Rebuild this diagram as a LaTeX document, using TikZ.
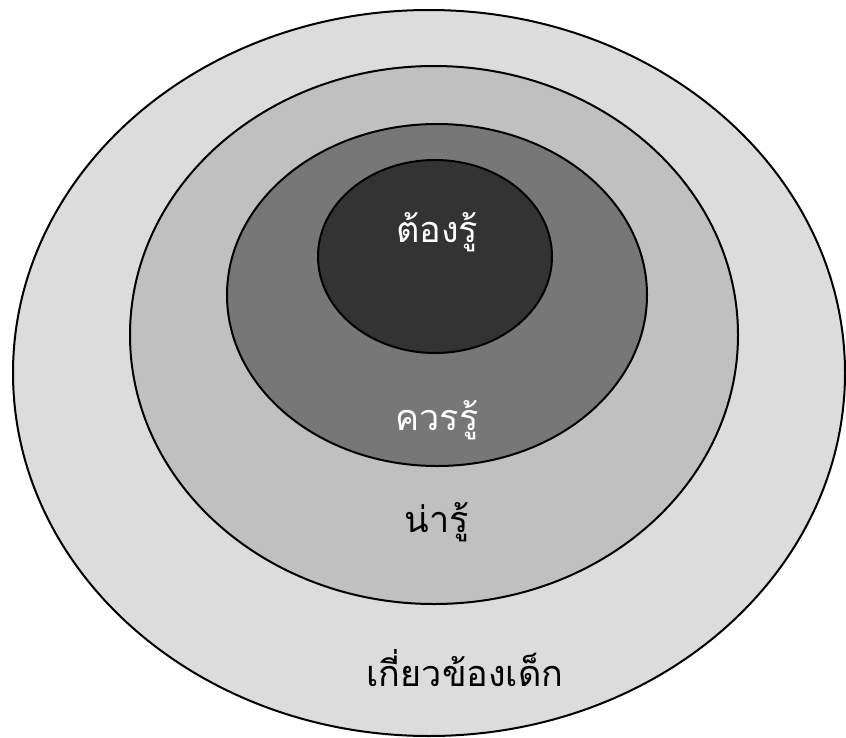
\documentclass[tikz,border=0pt]{standalone}
\usepackage{fontspec}
\newfontfamily\thaifont[Script=Thai]{Loma}
\definecolor{ringA}{HTML}{DCDCDC}
\definecolor{ringB}{HTML}{C0C0C0}
\definecolor{ringC}{HTML}{777777}
\definecolor{ringD}{HTML}{333333}
\begin{document}
\begin{tikzpicture}[x=1pt,y=-1pt,
  ring/.style={draw=black,line width=2pt},
  lbl/.style={font=\thaifont\fontsize{36}{40}\selectfont,inner sep=0pt}]
\useasboundingbox (0,0) rectangle (846,737);
\path[clip] (0,0) rectangle (846,737);
\fill[white] (0,0) rectangle (846,737);
\draw[ring,fill=ringA] (429,373) ellipse [x radius=416,y radius=363];
\draw[ring,fill=ringB] (434,335) ellipse [x radius=304,y radius=269];
\draw[ring,fill=ringC] (437,295) ellipse [x radius=210,y radius=171];
\draw[ring,fill=ringD] (435,256.5) ellipse [x radius=117,y radius=96.5];
\node[lbl,text=white] (must) at (437,232) {ต้องรู้};
\node[lbl,text=white] (should) at (437,420) {ควรรู้};
\node[lbl,text=black] (nice) at (437,522) {น่ารู้};
\node[lbl,text=black] (child) at (465,668) {เกี่ยวข้องเด็ก};
\end{tikzpicture}
\end{document}
